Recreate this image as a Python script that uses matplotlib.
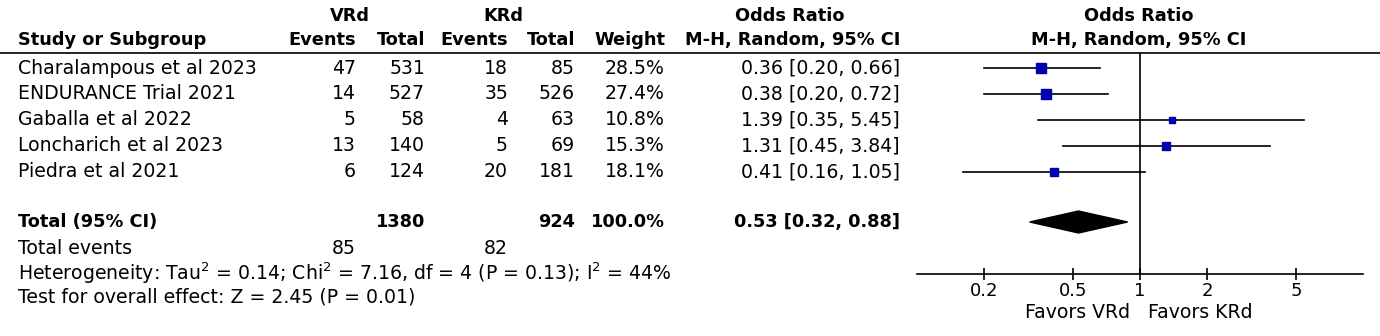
import numpy as np
import matplotlib
matplotlib.use("Agg")
import matplotlib.pyplot as plt

# data
studies = ["Charalampous et al 2023", "ENDURANCE Trial 2021", "Gaballa et al 2022",
           "Loncharich et al 2023", "Piedra et al 2021"]
vrd_events = [47, 14, 5, 13, 6]
vrd_total = [531, 527, 58, 140, 124]
krd_events = [18, 35, 4, 5, 20]
krd_total = [85, 526, 63, 69, 181]
weights = [28.5, 27.4, 10.8, 15.3, 18.1]
odds = [0.36, 0.38, 1.39, 1.31, 0.41]
ci_low = [0.20, 0.20, 0.35, 0.45, 0.16]
ci_high = [0.66, 0.72, 5.45, 3.84, 1.05]

pooled = [0.53, 0.32, 0.88]   # OR, low, high
total_weight = 100.0
sum_vrd_total, sum_krd_total = 1380, 924
sum_vrd_events, sum_krd_events = 85, 82
ticks = [0.2, 0.5, 1, 2, 5]

W, H = 1380, 336
FS = 13.6    # regular text
FSB = 12.8   # bold text
fig = plt.figure(figsize=(W / 100, H / 100), dpi=100)

# overlay in pixel coordinates for the table text
tx = fig.add_axes([0, 0, 1, 1])
tx.set_xlim(0, W)
tx.set_ylim(H, 0)
tx.axis("off")

def t(x, y, s, ha="right", bold=False):
    tx.text(x, y, s, ha=ha, va="center", fontsize=FSB if bold else FS,
            fontweight="bold" if bold else "normal", color="black")

# column right edges
c_ve, c_vt, c_ke, c_kt, c_w, c_or = 356, 425, 508, 575, 665, 900
y_h1, y_h2, y_line = 16, 40, 53
row_y = [68 + 25.9 * i for i in range(len(studies))]
y_tot, y_ev, y_het, y_test = 222, 249, 273, 297

t(350, y_h1, "VRd", ha="center", bold=True)
t(503, y_h1, "KRd", ha="center", bold=True)
t(790, y_h1, "Odds Ratio", ha="center", bold=True)
t(1139, y_h1, "Odds Ratio", ha="center", bold=True)
t(18, y_h2, "Study or Subgroup", ha="left", bold=True)
t(c_ve, y_h2, "Events", bold=True)
t(c_vt, y_h2, "Total", bold=True)
t(c_ke, y_h2, "Events", bold=True)
t(c_kt, y_h2, "Total", bold=True)
t(c_w, y_h2, "Weight", bold=True)
t(c_or, y_h2, "M-H, Random, 95% CI", bold=True)
t(1139, y_h2, "M-H, Random, 95% CI", ha="center", bold=True)
tx.plot([0, W], [y_line, y_line], color="black", lw=1.2)

for i, name in enumerate(studies):
    y = row_y[i]
    t(18, y, name, ha="left")
    t(c_ve, y, str(vrd_events[i]))
    t(c_vt, y, str(vrd_total[i]))
    t(c_ke, y, str(krd_events[i]))
    t(c_kt, y, str(krd_total[i]))
    t(c_w, y, f"{weights[i]:.1f}%")
    t(c_or, y, f"{odds[i]:.2f} [{ci_low[i]:.2f}, {ci_high[i]:.2f}]")

t(18, y_tot, "Total (95% CI)", ha="left", bold=True)
t(c_vt, y_tot, str(sum_vrd_total), bold=True)
t(c_kt, y_tot, str(sum_krd_total), bold=True)
t(c_w, y_tot, f"{total_weight:.1f}%", bold=True)
t(c_or, y_tot, f"{pooled[0]:.2f} [{pooled[1]:.2f}, {pooled[2]:.2f}]", bold=True)
t(18, y_ev, "Total events", ha="left")
t(c_ve, y_ev, str(sum_vrd_events))
t(c_ke, y_ev, str(sum_krd_events))
t(18, y_het, r"Heterogeneity: Tau$^2$ = 0.14; Chi$^2$ = 7.16, df = 4 (P = 0.13); I$^2$ = 44%", ha="left")
t(18, y_test, "Test for overall effect: Z = 2.45 (P = 0.01)", ha="left")

# forest panel, log scale, y in pixel units
ax_l, ax_r, ax_b = 917, 1363, 274
ax = fig.add_axes([ax_l / W, (H - ax_b) / H, (ax_r - ax_l) / W, (ax_b - y_line) / H])
ax.patch.set_alpha(0)
ax.set_xscale("log")
ax.set_xlim(0.1, 10)
ax.set_ylim(ax_b, y_line)
for s in ["top", "left", "right"]:
    ax.spines[s].set_visible(False)
ax.spines["bottom"].set_linewidth(1.2)
ax.set_yticks([])
ax.set_xticks(ticks)
ax.set_xticklabels([f"{v:g}" for v in ticks], fontsize=13)
ax.xaxis.set_minor_locator(matplotlib.ticker.NullLocator())
ax.tick_params(axis="x", direction="inout", length=9, width=1.2, pad=1)
ax.axvline(1, color="black", lw=1.2)

for i in range(len(studies)):
    y = row_y[i]
    ax.plot([ci_low[i], ci_high[i]], [y, y], color="black", lw=1.2)
    size = 1.9 * np.sqrt(weights[i]) * 0.72
    ax.plot(odds[i], y, marker="s", ms=size, color="#0000b0", mec="#0000b0")

ax.fill([pooled[1], pooled[0], pooled[2], pooled[0]],
        [y_tot, y_tot - 11, y_tot, y_tot + 11], color="black")

t(1130, 313, "Favors VRd")
t(1148, 313, "Favors KRd", ha="left")

fig.savefig("out.png", dpi=100)
